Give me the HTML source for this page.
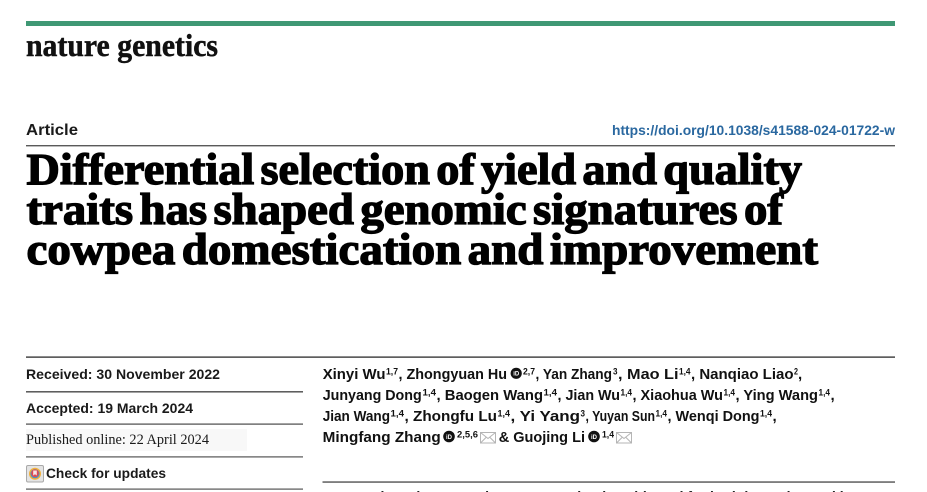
<!DOCTYPE html>
<html>
<head>
<meta charset="utf-8">
<style>
  html, body { margin:0; padding:0; background:#fff; }
  body { width:927px; height:492px; overflow:hidden; }
  svg { display:block; }
  .sans { font-family: "Liberation Sans", "DejaVu Sans", sans-serif; }
  .serif { font-family: "Liberation Serif", "DejaVu Serif", serif; }
  .title text { word-spacing: -5px; }
</style>
</head>
<body>
<svg width="927" height="492" viewBox="0 0 927 492" xmlns="http://www.w3.org/2000/svg">
  <rect x="0" y="0" width="927" height="492" fill="#ffffff"/>

  <!-- green top bar -->
  <rect x="26" y="21" width="869" height="5" fill="#3f9874"/>

  <!-- journal name -->
  <text class="serif" x="26" y="56" font-size="32" font-weight="bold" fill="#111" stroke="#111" stroke-width="0.5" textLength="192" lengthAdjust="spacingAndGlyphs">nature genetics</text>

  <!-- Article / DOI -->
  <text class="sans" x="26" y="135" font-size="15.5" font-weight="bold" fill="#1a1a1a" textLength="52" lengthAdjust="spacingAndGlyphs">Article</text>
  <text class="sans" x="612" y="135" font-size="14" font-weight="bold" fill="#2a68a0" textLength="283" lengthAdjust="spacingAndGlyphs">https://doi.org/10.1038/s41588-024-01722-w</text>
  <rect x="26" y="145" width="869" height="1.4" fill="#5a5a5a"/>

  <!-- Title -->
  <g class="serif title" font-size="44" font-weight="bold" fill="#000" stroke="#000" stroke-width="1.3">
    <text x="26.5" y="184" textLength="775.5" lengthAdjust="spacingAndGlyphs">Differential selection of yield and quality</text>
    <text x="26.5" y="224" textLength="756.5" lengthAdjust="spacingAndGlyphs">traits has shaped genomic signatures of</text>
    <text x="26.5" y="264" textLength="791.5" lengthAdjust="spacingAndGlyphs">cowpea domestication and improvement</text>
  </g>

  <!-- top rule across both columns -->
  <rect x="26" y="356.5" width="869" height="1.2" fill="#1a1a1a"/>

  <!-- Left column -->
  <g class="sans" font-size="14" font-weight="bold" fill="#1a1a1a">
    <text x="26" y="379" textLength="194" lengthAdjust="spacingAndGlyphs">Received: 30 November 2022</text>
    <text x="26" y="413" textLength="167" lengthAdjust="spacingAndGlyphs">Accepted: 19 March 2024</text>
    <text x="46" y="478" textLength="120" lengthAdjust="spacingAndGlyphs">Check for updates</text>
  </g>
  <rect x="26" y="391.3" width="277" height="1.1" fill="#1a1a1a"/>
  <rect x="26" y="423.5" width="277" height="1.2" fill="#4a4a4a"/>
  <rect x="26" y="429" width="221" height="22" fill="#f8f8f8"/>
  <text class="serif" x="26" y="444" font-size="14.5" fill="#1a1a1a" textLength="183" lengthAdjust="spacingAndGlyphs">Published online: 22 April 2024</text>
  <rect x="26" y="456.3" width="277" height="1.2" fill="#555"/>
  <rect x="26" y="488.5" width="277" height="1.2" fill="#555"/>

  <!-- check for updates icon -->
  <rect x="26.5" y="465.5" width="17" height="16.5" rx="1.5" fill="#e4e4e4" stroke="#a9a9a9" stroke-width="1"/>
  <circle cx="35" cy="473.7" r="6" fill="#f2b13a"/>
  <circle cx="35" cy="473.7" r="4.6" fill="#4a90c8"/>
  <circle cx="35" cy="473.2" r="3.8" fill="#e04a4f"/>
  <path d="M33.2 470.5 h3.6 v5 l-1.8 -1.3 l-1.8 1.3 z" fill="#f6e4e4"/>

  <!-- Authors -->
  <g class="sans" font-weight="bold" fill="#111">
    <!-- line 1 -->
    <text x="322.7" y="379" font-size="15" textLength="62.8" lengthAdjust="spacingAndGlyphs">Xinyi Wu</text>
    <text x="386" y="374.5" font-size="9.5" textLength="12" lengthAdjust="spacingAndGlyphs">1,7</text>
    <text x="398.5" y="379" font-size="15" textLength="108.5" lengthAdjust="spacingAndGlyphs">, Zhongyuan Hu</text>
    <text x="523" y="374.5" font-size="9.5" textLength="12" lengthAdjust="spacingAndGlyphs">2,7</text>
    <text x="535.5" y="379" font-size="15" textLength="76.5" lengthAdjust="spacingAndGlyphs">, Yan Zhang</text>
    <text x="613" y="374.5" font-size="9.5" textLength="4.5" lengthAdjust="spacingAndGlyphs">3</text>
    <text x="618" y="379" font-size="15" textLength="60.5" lengthAdjust="spacingAndGlyphs">, Mao Li</text>
    <text x="679" y="374.5" font-size="9.5" textLength="11.5" lengthAdjust="spacingAndGlyphs">1,4</text>
    <text x="691" y="379" font-size="15" textLength="102.5" lengthAdjust="spacingAndGlyphs">, Nanqiao Liao</text>
    <text x="794" y="374.5" font-size="9.5" textLength="4" lengthAdjust="spacingAndGlyphs">2</text>
    <text x="798" y="379" font-size="15">,</text>

    <!-- line 2 -->
    <text x="322.7" y="400" font-size="15" textLength="99" lengthAdjust="spacingAndGlyphs">Junyang Dong</text>
    <text x="422.5" y="395.5" font-size="9.5" textLength="13.5" lengthAdjust="spacingAndGlyphs">1,4</text>
    <text x="436.5" y="400" font-size="15" textLength="106.5" lengthAdjust="spacingAndGlyphs">, Baogen Wang</text>
    <text x="543.5" y="395.5" font-size="9.5" textLength="13.5" lengthAdjust="spacingAndGlyphs">1,4</text>
    <text x="557.5" y="400" font-size="15" textLength="62.5" lengthAdjust="spacingAndGlyphs">, Jian Wu</text>
    <text x="620.5" y="395.5" font-size="9.5" textLength="11.5" lengthAdjust="spacingAndGlyphs">1,4</text>
    <text x="632.5" y="400" font-size="15" textLength="90.5" lengthAdjust="spacingAndGlyphs">, Xiaohua Wu</text>
    <text x="723.5" y="395.5" font-size="9.5" textLength="11.5" lengthAdjust="spacingAndGlyphs">1,4</text>
    <text x="735.5" y="400" font-size="15" textLength="82.5" lengthAdjust="spacingAndGlyphs">, Ying Wang</text>
    <text x="818.5" y="395.5" font-size="9.5" textLength="11.5" lengthAdjust="spacingAndGlyphs">1,4</text>
    <text x="830.5" y="400" font-size="15">,</text>

    <!-- line 3 -->
    <text x="322.7" y="421" font-size="15" textLength="67.3" lengthAdjust="spacingAndGlyphs">Jian Wang</text>
    <text x="390.5" y="416.5" font-size="9.5" textLength="13.5" lengthAdjust="spacingAndGlyphs">1,4</text>
    <text x="404.5" y="421" font-size="15" textLength="92.5" lengthAdjust="spacingAndGlyphs">, Zhongfu Lu</text>
    <text x="497.5" y="416.5" font-size="9.5" textLength="12.5" lengthAdjust="spacingAndGlyphs">1,4</text>
    <text x="510.5" y="421" font-size="15" textLength="69.5" lengthAdjust="spacingAndGlyphs">, Yi Yang</text>
    <text x="580.5" y="416.5" font-size="9.5" textLength="4.5" lengthAdjust="spacingAndGlyphs">3</text>
    <text x="585.5" y="421" font-size="15" textLength="69.5" lengthAdjust="spacingAndGlyphs">, Yuyan Sun</text>
    <text x="655.5" y="416.5" font-size="9.5" textLength="11.5" lengthAdjust="spacingAndGlyphs">1,4</text>
    <text x="667.5" y="421" font-size="15" textLength="92" lengthAdjust="spacingAndGlyphs">, Wenqi Dong</text>
    <text x="760" y="416.5" font-size="9.5" textLength="12" lengthAdjust="spacingAndGlyphs">1,4</text>
    <text x="772.5" y="421" font-size="15">,</text>

    <!-- line 4 -->
    <text x="322.7" y="442" font-size="15" textLength="118" lengthAdjust="spacingAndGlyphs">Mingfang Zhang</text>
    <text x="457" y="437.5" font-size="9.5" textLength="21" lengthAdjust="spacingAndGlyphs">2,5,6</text>
    <text x="498.7" y="442" font-size="15" textLength="86.3" lengthAdjust="spacingAndGlyphs">&amp; Guojing Li</text>
    <text x="602" y="437.5" font-size="9.5" textLength="12" lengthAdjust="spacingAndGlyphs">1,4</text>
  </g>

  <!-- ORCID icons -->
  <g>
    <circle cx="516.2" cy="373.3" r="5.6" fill="#111"/>
    <text class="sans" x="516.2" y="375.6" font-size="6" font-weight="bold" fill="#fff" text-anchor="middle">iD</text>
    <circle cx="449" cy="436.5" r="5.8" fill="#111"/>
    <text class="sans" x="449" y="438.8" font-size="6" font-weight="bold" fill="#fff" text-anchor="middle">iD</text>
    <circle cx="594" cy="436.5" r="5.8" fill="#111"/>
    <text class="sans" x="594" y="438.8" font-size="6" font-weight="bold" fill="#fff" text-anchor="middle">iD</text>
  </g>

  <!-- envelope icons -->
  <g fill="none" stroke="#b5b5b5" stroke-width="1">
    <rect x="480.5" y="432.5" width="15" height="10.5"/>
    <path d="M480.5 432.5 L488 438.5 L495.5 432.5 M480.5 443 L486 437.5 M495.5 443 L490 437.5"/>
    <rect x="616.5" y="432.5" width="15" height="10.5"/>
    <path d="M616.5 432.5 L624 438.5 L631.5 432.5 M616.5 443 L622 437.5 M631.5 443 L626 437.5"/>
  </g>

  <!-- rule under authors -->
  <rect x="322.5" y="481.3" width="572.5" height="1.5" fill="#5f5f5f"/>

  <!-- abstract text (cut off at bottom) -->
  <text class="sans" x="322.7" y="502" font-size="15" font-weight="bold" fill="#222" textLength="560" lengthAdjust="spacingAndGlyphs">Cowpea is an important legume crop that is cultivated for both its grains and leaves</text>
</svg>
</body>
</html>
